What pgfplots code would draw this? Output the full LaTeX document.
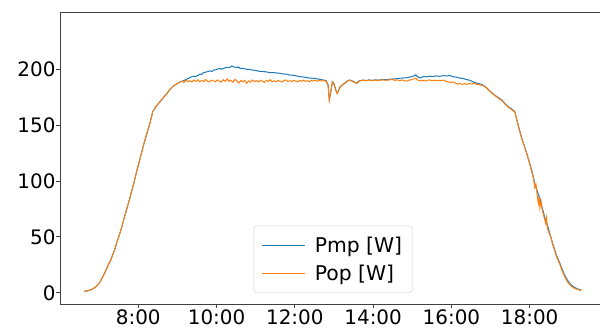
\documentclass[border=0pt]{standalone}
\usepackage{pgfplots}
\pgfplotsset{compat=1.18}
\usepackage{fontspec}
\setmainfont{DejaVu Sans}
\definecolor{mplblue}{HTML}{1F77B4}
\definecolor{mplorange}{HTML}{FF7F0E}
\begin{document}
\begin{tikzpicture}
\begin{axis}[
  scale only axis, width=546bp, height=292bp,
  xmin=6.0, xmax=19.95, ymin=-10, ymax=251,
  xtick={8,10,12,14,16,18},
  xticklabels={8:00,10:00,12:00,14:00,16:00,18:00},
  ytick={0,50,100,150,200},
  tickpos=left, tick align=outside,
  major tick length=3.5bp,
  tick style={black!75, line width=0.8bp},
  axis line style={black!75, line width=0.8bp},
  /pgf/number format/assume math mode=true,
  ticklabel style={font=\fontsize{20}{23}\selectfont},
  yticklabel style={xshift=2.5bp},
  xticklabel style={yshift=1.5bp},
  legend cell align=left,
  legend style={at={(0.5,0.038)}, anchor=south, draw=black!20, rounded corners=3bp,
    fill=white, inner xsep=8bp, inner ysep=9bp, row sep=7bp, column sep=7bp,
    font=\fontsize{20.4}{24}\selectfont},
  legend image code/.code={\draw[#1, line width=1bp] (0bp,0bp) -- (43bp,0bp);},
]
\addplot[mplblue, line width=1bp] coordinates {
(6.62,1.2)(6.70,1.8)(6.80,2.8)(6.90,4.8)(7.00,8.5)(7.05,11.5)(7.10,15)(7.16,19)
(7.22,24)(7.28,28)(7.33,32.5)(7.40,39)(7.46,46)(7.52,52)(7.58,59)(7.64,67)
(7.71,75.5)(7.78,84)(7.84,92)(7.90,100)(7.97,110)(8.03,118)(8.09,126)(8.15,134)
(8.22,142.5)(8.30,152)(8.37,162)(8.45,166.5)(8.56,171)(8.64,174.5)(8.73,178)
(8.81,182)(8.90,185)(8.98,186.8)(9.07,188.5)(9.15,189.5)(9.24,191)(9.32,192.5)
(9.40,193.5)(9.46,193.2)(9.50,194)(9.54,194.6)(9.58,195.5)(9.62,195.1)(9.66,196.8)(9.75,197.5)(9.83,198.3)(9.88,197.9)(9.92,199)
(10.00,199.5)(10.05,200.3)(10.09,200.4)(10.13,199.9)(10.18,200.6)(10.26,201.5)(10.33,201.3)(10.39,202.7)
(10.45,201.8)(10.52,201.4)(10.56,201.9)(10.60,200.6)(10.68,200.7)(10.76,199.8)(10.85,199.6)
(10.94,199)(11.02,198.6)(11.10,197.9)(11.19,197.8)(11.28,197.4)(11.36,196.8)
(11.45,196.9)(11.53,196.5)(11.62,196.2)(11.70,195.6)(11.79,195.4)(11.88,194.6)
(11.96,194.4)(12.05,193.8)(12.13,193.2)(12.22,192.9)(12.30,192.4)(12.39,191.9)
(12.47,191.7)(12.56,191.3)(12.64,190.8)(12.73,190.2)(12.80,189.6)(12.85,186)
(12.88,172.5)(12.92,180)(12.96,188.7)(13.00,187)(13.05,181)(13.08,178.5)
(13.11,180)(13.15,184)(13.22,186)(13.28,187.5)(13.34,189.4)(13.40,190.2)
(13.46,189.5)(13.52,188.6)(13.58,187.3)(13.64,189.4)(13.70,189.8)(13.75,190.2)
(13.82,189.7)(13.90,190.3)(13.98,189.9)(14.05,190.4)(14.12,190.1)(14.18,190.3)
(14.26,190.6)(14.34,190.4)(14.42,190.8)(14.51,191.2)(14.60,191.4)(14.68,191.8)
(14.76,192)(14.85,192.3)(14.93,192.8)(15.00,193.4)(15.05,194)(15.09,194.8)
(15.13,193.4)(15.20,192)(15.28,193.2)(15.36,193.1)(15.45,193.6)(15.53,193.4)
(15.62,193.9)(15.70,193.5)(15.79,194.1)(15.88,193.8)(15.96,194.2)(16.04,193.2)
(16.13,192.8)(16.21,191.9)(16.30,191.6)(16.38,190.6)(16.47,190)(16.55,188.6)
(16.63,187.6)(16.72,186.8)(16.81,185.6)(16.89,183.6)(16.98,180.5)(17.06,178)
(17.14,175.8)(17.23,173.8)(17.30,172)(17.38,168.6)(17.45,166.4)(17.53,164.6)
(17.62,162)(17.68,153.5)(17.74,145.5)(17.80,138)(17.87,130.6)(17.94,123)
(18.00,115.8)(18.06,108.5)(18.13,98)(18.20,90)(18.26,84.5)(18.32,76)(18.38,68)
(18.45,61)(18.51,53.3)(18.58,45)(18.64,38.4)(18.70,32)(18.77,26.5)(18.83,21)
(18.89,16)(18.97,11)(19.06,7)(19.15,4.8)(19.22,3.5)(19.29,2.7)(19.32,2.5)
};
\addlegendentry{Pmp [W]}
\addplot[mplorange, line width=1bp] coordinates {
(6.62,1.2)(6.70,1.8)(6.80,2.8)(6.90,4.8)(7.00,8.5)(7.05,11.5)(7.10,15)(7.16,19)
(7.22,24)(7.28,28)(7.33,32.5)(7.40,39)(7.46,46)(7.52,52)(7.58,59)(7.64,67)
(7.71,75.5)(7.78,84)(7.84,92)(7.90,100)(7.97,110)(8.03,118)(8.09,126)(8.15,134)
(8.22,142.5)(8.30,152)(8.37,162)(8.45,166.5)(8.56,171)(8.64,174.5)(8.73,178)
(8.81,182)(8.90,185)(8.98,186.8)(9.07,188.5)
(9.12,189.2)(9.17,188.0)(9.22,190.0)(9.27,188.8)(9.32,189.6)(9.37,188.4)(9.42,190.2)
(9.47,189.0)(9.52,190.4)(9.57,188.6)(9.62,189.8)(9.67,188.9)(9.72,190.6)(9.77,189.2)
(9.82,188.5)(9.87,190.1)(9.92,189.4)(9.97,188.7)(10.02,190.3)(10.07,189.1)(10.12,188.4)
(10.17,190.5)(10.22,189.0)(10.27,191.2)(10.32,188.9)(10.37,190.0)(10.42,188.2)
(10.47,190.8)(10.52,189.3)(10.57,187.6)(10.62,189.9)(10.67,188.6)(10.72,189.8)
(10.77,187.2)(10.82,189.5)(10.87,188.3)(10.92,190.2)(10.97,188.9)(11.02,189.7)
(11.07,188.4)(11.12,190.0)(11.17,189.2)(11.22,188.1)(11.27,189.8)(11.32,189.0)
(11.37,190.4)(11.42,188.7)(11.47,189.5)(11.52,188.6)(11.57,189.9)(11.62,189.1)
(11.67,188.3)(11.72,189.7)(11.77,190.3)(11.82,188.9)(11.87,189.6)(11.92,188.8)
(11.97,189.9)(12.02,189.2)(12.07,188.6)(12.12,189.8)(12.17,189.1)(12.22,190.1)
(12.27,189.0)(12.32,189.6)(12.37,188.7)(12.42,189.9)(12.47,189.3)(12.52,190.0)
(12.57,189.1)(12.62,189.7)(12.67,189.2)(12.72,190.0)(12.77,189.4)(12.81,188.8)
(12.85,185)(12.88,172)(12.92,180)(12.96,188.5)(13.00,186.5)(13.05,180.5)(13.08,178)
(13.11,179.8)(13.15,183.5)(13.22,186)(13.28,187)(13.34,189.2)(13.40,190)(13.46,189.2)
(13.52,188.2)(13.58,187)(13.64,189)(13.70,189.8)(13.75,190)(13.82,189.5)(13.90,190.2)
(13.98,189.6)(14.05,190.2)(14.12,189.8)(14.18,190.1)(14.26,190.3)(14.34,189.9)
(14.42,190.4)(14.51,190.6)(14.56,189.8)(14.62,190.4)(14.68,189.5)(14.74,190.3)
(14.80,189.6)(14.86,189.2)(14.92,190.0)(14.98,190.6)(15.04,191.2)(15.09,191.8)
(15.14,190.2)(15.20,189.4)(15.26,190.0)(15.32,189.3)(15.38,189.8)(15.44,190.3)
(15.50,189.5)(15.56,190.1)(15.62,189.4)(15.68,190.0)(15.74,189.6)(15.80,190.2)
(15.86,189.1)(15.92,188.6)(15.98,188.0)(16.04,188.5)(16.10,187.4)(16.16,186.6)
(16.22,187.2)(16.28,186.3)(16.34,187.0)(16.40,186.2)(16.46,187.3)(16.52,186.5)
(16.58,187.2)(16.64,186.4)(16.72,186.0)(16.81,185.2)(16.89,183.4)(16.98,180.2)
(17.06,177.6)(17.14,175.5)(17.23,173.2)(17.30,171.4)(17.38,168.2)(17.45,166)
(17.53,164)(17.62,161.5)(17.68,153)(17.74,145)(17.80,137.5)(17.87,130)(17.94,122.5)
(18.00,115)(18.06,107)(18.10,102)(18.13,94)(18.16,97)(18.19,88)(18.22,80)(18.24,86)
(18.26,76)(18.29,82)(18.32,74)(18.38,66)(18.41,62)(18.43,67)(18.45,58)(18.51,52)
(18.54,50)(18.58,44)(18.64,37.5)(18.70,31)(18.77,25.5)(18.83,19.5)(18.89,14.8)
(18.97,9.5)(19.06,6)(19.15,3.8)(19.22,3.2)(19.29,2.2)(19.32,2.0)
};
\addlegendentry{Pop [W]}
\coordinate (O) at (rel axis cs:0,0);
\coordinate (T) at (rel axis cs:0,1);
\end{axis}
\pgfresetboundingbox
\path[use as bounding box] ([xshift=-60bp,yshift=-27bp]O) rectangle ([xshift=540bp,yshift=12bp]T);
\end{tikzpicture}
\end{document}
